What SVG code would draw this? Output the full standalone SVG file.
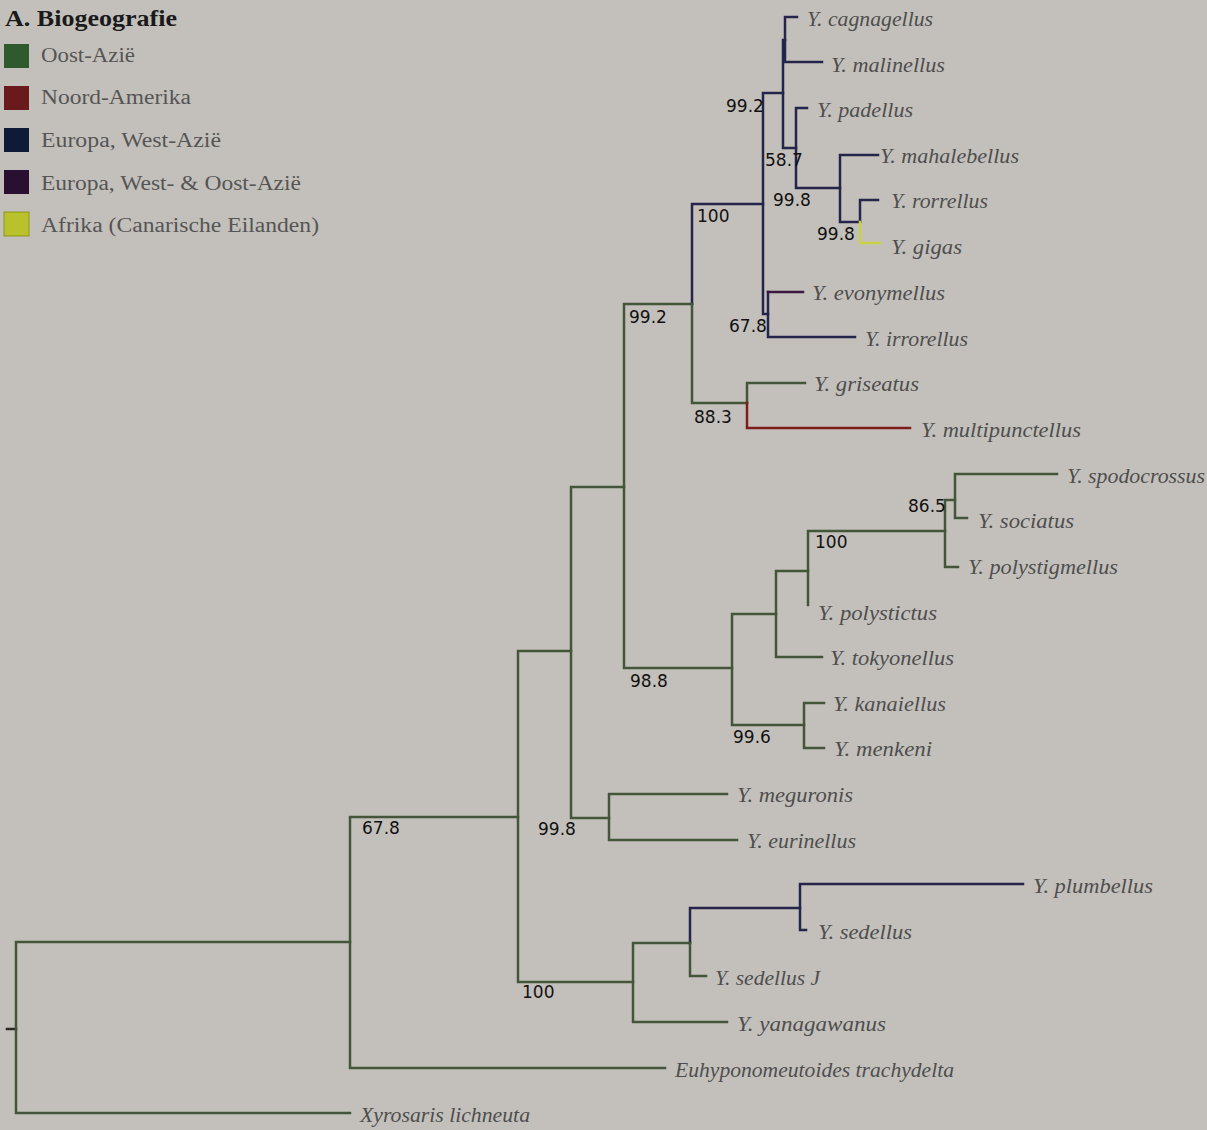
<svg xmlns="http://www.w3.org/2000/svg" width="1207" height="1130" viewBox="0 0 1207 1130">
<style>
.bg{fill:#c3c0bb}
.e{fill:none;stroke-width:2.5;stroke-linecap:square}
.g{stroke:#445639}
.n{stroke:#25244a}
.p{stroke:#3a1a42}
.r{stroke:#7e1c1c}
.y{stroke:#c9d247}
.k{stroke:#2a2a2a}
.leaf{font-family:"Liberation Serif","DejaVu Serif",serif;font-style:italic;font-size:20px;fill:#4e4e4e}
.sup{font-family:"DejaVu Sans",sans-serif;font-size:17px;fill:#111}
.leg{font-family:"Liberation Serif","DejaVu Serif",serif;font-size:20px;fill:#555}
.ttl{font-family:"Liberation Serif","DejaVu Serif",serif;font-size:23px;font-weight:bold;fill:#1a1a1a}
</style>
<rect class="bg" x="0" y="0" width="1207" height="1130"/>

<g id="legend">
<text class="ttl" x="5" y="26" textLength="172" lengthAdjust="spacingAndGlyphs">A. Biogeografie</text>
<rect x="4" y="44" width="25" height="24" fill="#2e5a2e"/>
<text class="leg" x="41" y="62" textLength="94" lengthAdjust="spacingAndGlyphs">Oost-Azië</text>
<rect x="4" y="86" width="25" height="24" fill="#6a1a1c"/>
<text class="leg" x="41" y="104" textLength="150" lengthAdjust="spacingAndGlyphs">Noord-Amerika</text>
<rect x="4" y="128" width="25" height="24" fill="#0f1a36"/>
<text class="leg" x="41" y="147" textLength="180" lengthAdjust="spacingAndGlyphs">Europa, West-Azië</text>
<rect x="4" y="170" width="25" height="24" fill="#2a1030"/>
<text class="leg" x="41" y="190" textLength="260" lengthAdjust="spacingAndGlyphs">Europa, West- &amp; Oost-Azië</text>
<rect x="4" y="212" width="25" height="24" fill="#b9c22c" stroke="#8e9622" stroke-width="1"/>
<text class="leg" x="41" y="232" textLength="278" lengthAdjust="spacingAndGlyphs">Afrika (Canarische Eilanden)</text>
</g>

<g id="connectors">
<path class="e k" d="M7 1029H16"/>
<path class="e g" d="M16 942V1113M16 942H350M16 1113H350"/>
<path class="e g" d="M350 817V1068M350 817H518M350 1068H665"/>
<path class="e g" d="M518 651V982M518 651H571M518 982H633"/>
<path class="e g" d="M571 487V818M571 487H624M571 818H609"/>
<path class="e g" d="M609 794V840M609 794H727M609 840H737"/>
<path class="e g" d="M624 304V668M624 304H692M624 668H732"/>
<path class="e n" d="M692 204V304M692 204H763"/>
<path class="e g" d="M692 304V403M692 403H747"/>
<path class="e g" d="M747 383V403M747 383H805"/>
<path class="e r" d="M747 403V428M747 428H910"/>
<path class="e n" d="M763 93V314M763 93H783M763 314H768"/>
<path class="e n" d="M768 292V337M768 337H855"/>
<path class="e p" d="M768 292H803"/>
<path class="e n" d="M783 40V148M783 40H785M783 148H796"/>
<path class="e n" d="M785 17V62M785 17H797M785 62H822"/>
<path class="e n" d="M796 108V188M796 108H807M796 188H840"/>
<path class="e n" d="M840 155V222M840 155H878M840 222H860"/>
<path class="e n" d="M860 200V222M860 200H878"/>
<path class="e y" d="M860 222V243M860 243H880"/>
<path class="e g" d="M732 614V725M732 614H776M732 725H804"/>
<path class="e g" d="M776 571V657M776 571H808M776 657H822"/>
<path class="e g" d="M808 531V605M808 531H945"/>
<path class="e g" d="M945 500V567M945 500H955M945 567H958"/>
<path class="e g" d="M955 474V518M955 474H1057M955 518H967"/>
<path class="e g" d="M804 703V748M804 703H824M804 748H824"/>
<path class="e g" d="M633 943V1022M633 943H690M633 1022H727"/>
<path class="e n" d="M690 908V943M690 908H800"/>
<path class="e g" d="M690 943V976M690 976H706"/>
<path class="e n" d="M800 884V930M800 884H1023M800 930H806"/>
</g>

<g id="support">
<text class="sup" x="726" y="112">99.2</text>
<text class="sup" x="765" y="166">58.7</text>
<text class="sup" x="773" y="206">99.8</text>
<text class="sup" x="817" y="240">99.8</text>
<text class="sup" x="697" y="222">100</text>
<text class="sup" x="629" y="323">99.2</text>
<text class="sup" x="729" y="332">67.8</text>
<text class="sup" x="694" y="423">88.3</text>
<text class="sup" x="908" y="512">86.5</text>
<text class="sup" x="815" y="548">100</text>
<text class="sup" x="630" y="687">98.8</text>
<text class="sup" x="733" y="743">99.6</text>
<text class="sup" x="538" y="835">99.8</text>
<text class="sup" x="362" y="834">67.8</text>
<text class="sup" x="522" y="998">100</text>
</g>

<g id="n-cagnagellus"><text class="leaf" x="807" y="26" textLength="126" lengthAdjust="spacingAndGlyphs">Y. cagnagellus</text></g>
<g id="n-malinellus"><text class="leaf" x="831" y="72" textLength="114" lengthAdjust="spacingAndGlyphs">Y. malinellus</text></g>
<g id="n-padellus"><text class="leaf" x="817" y="117" textLength="96" lengthAdjust="spacingAndGlyphs">Y. padellus</text></g>
<g id="n-mahalebellus"><text class="leaf" x="880" y="163" textLength="139" lengthAdjust="spacingAndGlyphs">Y. mahalebellus</text></g>
<g id="n-rorrellus"><text class="leaf" x="891" y="208" textLength="97" lengthAdjust="spacingAndGlyphs">Y. rorrellus</text></g>
<g id="n-gigas"><text class="leaf" x="891" y="254" textLength="71" lengthAdjust="spacingAndGlyphs">Y. gigas</text></g>
<g id="n-evonymellus"><text class="leaf" x="812" y="300" textLength="133" lengthAdjust="spacingAndGlyphs">Y. evonymellus</text></g>
<g id="n-irrorellus"><text class="leaf" x="865" y="346" textLength="103" lengthAdjust="spacingAndGlyphs">Y. irrorellus</text></g>
<g id="n-griseatus"><text class="leaf" x="814" y="391" textLength="105" lengthAdjust="spacingAndGlyphs">Y. griseatus</text></g>
<g id="n-multipunctellus"><text class="leaf" x="921" y="437" textLength="160" lengthAdjust="spacingAndGlyphs">Y. multipunctellus</text></g>
<g id="n-spodocrossus"><text class="leaf" x="1067" y="483" textLength="138" lengthAdjust="spacingAndGlyphs">Y. spodocrossus</text></g>
<g id="n-sociatus"><text class="leaf" x="978" y="528" textLength="96" lengthAdjust="spacingAndGlyphs">Y. sociatus</text></g>
<g id="n-polystigmellus"><text class="leaf" x="968" y="574" textLength="150" lengthAdjust="spacingAndGlyphs">Y. polystigmellus</text></g>
<g id="n-polystictus"><text class="leaf" x="818" y="620" textLength="119" lengthAdjust="spacingAndGlyphs">Y. polystictus</text></g>
<g id="n-tokyonellus"><text class="leaf" x="830" y="665" textLength="124" lengthAdjust="spacingAndGlyphs">Y. tokyonellus</text></g>
<g id="n-kanaiellus"><text class="leaf" x="833" y="711" textLength="113" lengthAdjust="spacingAndGlyphs">Y. kanaiellus</text></g>
<g id="n-menkeni"><text class="leaf" x="834" y="756" textLength="98" lengthAdjust="spacingAndGlyphs">Y. menkeni</text></g>
<g id="n-meguronis"><text class="leaf" x="737" y="802" textLength="116" lengthAdjust="spacingAndGlyphs">Y. meguronis</text></g>
<g id="n-eurinellus"><text class="leaf" x="747" y="848" textLength="109" lengthAdjust="spacingAndGlyphs">Y. eurinellus</text></g>
<g id="n-plumbellus"><text class="leaf" x="1033" y="893" textLength="120" lengthAdjust="spacingAndGlyphs">Y. plumbellus</text></g>
<g id="n-sedellus"><text class="leaf" x="818" y="939" textLength="94" lengthAdjust="spacingAndGlyphs">Y. sedellus</text></g>
<g id="n-sedellusJ"><text class="leaf" x="715" y="985" textLength="105" lengthAdjust="spacingAndGlyphs">Y. sedellus J</text></g>
<g id="n-yanagawanus"><text class="leaf" x="737" y="1031" textLength="149" lengthAdjust="spacingAndGlyphs">Y. yanagawanus</text></g>
<g id="n-euhyponomeutoides"><text class="leaf" x="675" y="1077" textLength="279" lengthAdjust="spacingAndGlyphs">Euhyponomeutoides trachydelta</text></g>
<g id="n-xyrosaris"><text class="leaf" x="360" y="1122" textLength="170" lengthAdjust="spacingAndGlyphs">Xyrosaris lichneuta</text></g>
</svg>
